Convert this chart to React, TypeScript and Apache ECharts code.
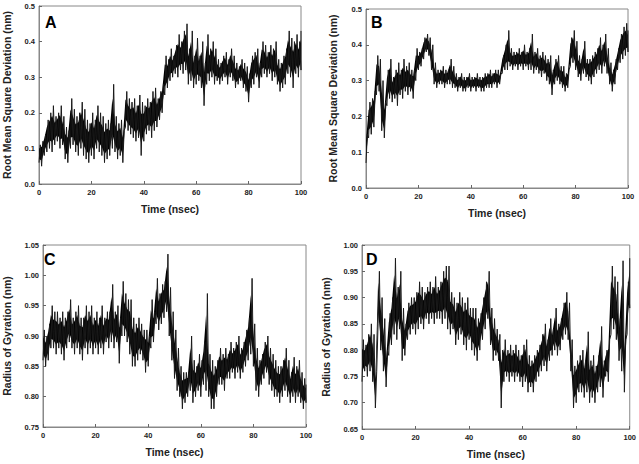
import React, { useEffect, useRef } from "react";
import * as echarts from "echarts";

// Time axis ticks (nsec)
const xTicks = [0, 20, 40, 60, 80, 100];

// Panel A – RMSD (nm), lower / upper envelope per ns (t = 0..100)
const aLo = [0.06,0.05,0.08,0.09,0.10,0.09,0.11,0.12,0.10,0.11,0.07,0.06,0.10,0.11,0.09,0.08,0.10,0.08,0.07,0.06,0.08,0.07,0.10,0.09,0.08,0.06,0.07,0.08,0.10,0.09,0.07,0.08,0.06,0.16,0.15,0.14,0.13,0.12,0.13,0.08,0.12,0.14,0.15,0.13,0.15,0.16,0.18,0.20,0.25,0.27,0.29,0.30,0.31,0.30,0.32,0.31,0.32,0.28,0.29,0.27,0.28,0.29,0.27,0.22,0.28,0.29,0.30,0.28,0.29,0.28,0.29,0.30,0.28,0.30,0.29,0.27,0.28,0.29,0.27,0.26,0.23,0.27,0.28,0.30,0.27,0.30,0.31,0.30,0.31,0.29,0.30,0.28,0.26,0.27,0.28,0.31,0.30,0.27,0.31,0.30,0.32];
const aHi = [0.11,0.12,0.14,0.18,0.20,0.22,0.19,0.20,0.22,0.19,0.16,0.15,0.24,0.21,0.19,0.20,0.23,0.21,0.18,0.17,0.20,0.18,0.22,0.20,0.19,0.17,0.18,0.17,0.28,0.19,0.17,0.18,0.15,0.26,0.24,0.23,0.24,0.22,0.25,0.23,0.22,0.24,0.23,0.26,0.27,0.24,0.26,0.28,0.36,0.35,0.38,0.36,0.39,0.42,0.40,0.43,0.45,0.38,0.43,0.36,0.41,0.36,0.40,0.34,0.42,0.38,0.40,0.38,0.35,0.34,0.36,0.37,0.35,0.38,0.36,0.34,0.33,0.35,0.34,0.33,0.31,0.36,0.37,0.38,0.34,0.40,0.39,0.37,0.39,0.38,0.40,0.35,0.34,0.36,0.38,0.43,0.41,0.40,0.42,0.40,0.43];

// Panel B – RMSD (nm)
const bLo = [0.07,0.14,0.15,0.17,0.26,0.27,0.16,0.14,0.23,0.25,0.24,0.25,0.23,0.26,0.25,0.27,0.26,0.27,0.25,0.30,0.33,0.34,0.36,0.38,0.37,0.33,0.29,0.28,0.29,0.29,0.28,0.29,0.29,0.28,0.28,0.27,0.28,0.27,0.27,0.28,0.27,0.28,0.27,0.28,0.27,0.27,0.28,0.28,0.28,0.29,0.28,0.29,0.32,0.33,0.33,0.34,0.33,0.34,0.33,0.34,0.33,0.34,0.33,0.33,0.32,0.33,0.32,0.31,0.32,0.30,0.29,0.26,0.29,0.30,0.29,0.28,0.27,0.28,0.34,0.35,0.33,0.31,0.30,0.32,0.31,0.30,0.29,0.31,0.32,0.33,0.32,0.34,0.32,0.29,0.27,0.29,0.33,0.35,0.36,0.37,0.38];
const bHi = [0.15,0.24,0.25,0.27,0.37,0.36,0.30,0.24,0.33,0.36,0.31,0.33,0.35,0.33,0.36,0.34,0.35,0.33,0.33,0.39,0.38,0.39,0.42,0.43,0.42,0.40,0.35,0.33,0.33,0.34,0.33,0.33,0.36,0.34,0.32,0.31,0.32,0.31,0.31,0.32,0.31,0.31,0.32,0.31,0.31,0.32,0.32,0.33,0.32,0.33,0.33,0.32,0.37,0.40,0.44,0.39,0.38,0.38,0.39,0.38,0.40,0.38,0.39,0.43,0.38,0.39,0.37,0.38,0.37,0.36,0.37,0.33,0.36,0.37,0.34,0.34,0.32,0.33,0.42,0.44,0.41,0.37,0.36,0.41,0.36,0.36,0.37,0.38,0.39,0.42,0.40,0.43,0.39,0.35,0.33,0.36,0.39,0.43,0.45,0.46,0.44];

// Panel C – Radius of gyration (nm)
const cLo = [0.86,0.85,0.86,0.88,0.88,0.87,0.88,0.87,0.86,0.88,0.89,0.88,0.87,0.88,0.87,0.86,0.88,0.87,0.88,0.87,0.88,0.87,0.88,0.87,0.89,0.88,0.89,0.88,0.89,0.855,0.90,0.90,0.89,0.87,0.85,0.85,0.86,0.87,0.86,0.84,0.85,0.88,0.89,0.92,0.91,0.92,0.93,0.94,0.90,0.86,0.83,0.81,0.80,0.78,0.79,0.80,0.81,0.79,0.80,0.81,0.80,0.82,0.81,0.80,0.78,0.78,0.80,0.82,0.82,0.81,0.83,0.83,0.84,0.83,0.84,0.83,0.84,0.85,0.86,0.87,0.85,0.81,0.80,0.82,0.83,0.84,0.82,0.81,0.80,0.80,0.79,0.80,0.81,0.80,0.79,0.80,0.79,0.80,0.79,0.78,0.79];
const cHi = [0.91,0.90,0.92,0.95,0.94,0.94,0.93,0.94,0.93,0.94,0.96,0.93,0.94,0.95,0.93,0.93,0.95,0.94,0.95,0.93,0.94,0.93,0.95,0.93,0.94,0.94,0.985,0.94,0.95,0.93,0.99,0.97,0.96,0.96,0.93,0.92,0.93,0.92,0.91,0.91,0.90,0.96,0.94,0.995,0.97,0.985,0.99,1.035,0.98,0.94,0.91,0.88,0.85,0.84,0.84,0.84,0.90,0.86,0.85,0.87,0.86,0.89,0.97,0.87,0.86,0.85,0.86,0.88,0.87,0.88,0.87,0.89,0.88,0.89,0.90,0.88,0.89,0.91,0.93,0.995,0.92,0.88,0.86,0.87,0.89,0.90,0.88,0.87,0.86,0.85,0.85,0.86,0.88,0.86,0.84,0.865,0.85,0.86,0.84,0.83,0.82];

// Panel D – Radius of gyration (nm)
const dLo = [0.74,0.76,0.75,0.76,0.74,0.69,0.85,0.80,0.76,0.73,0.79,0.81,0.83,0.82,0.84,0.78,0.79,0.82,0.83,0.84,0.83,0.84,0.85,0.84,0.86,0.85,0.86,0.85,0.86,0.86,0.85,0.86,0.84,0.83,0.84,0.81,0.82,0.83,0.81,0.80,0.82,0.80,0.79,0.78,0.80,0.82,0.84,0.86,0.81,0.78,0.79,0.78,0.69,0.74,0.75,0.74,0.75,0.74,0.75,0.74,0.73,0.74,0.72,0.73,0.72,0.74,0.75,0.76,0.77,0.76,0.78,0.79,0.80,0.79,0.80,0.82,0.83,0.82,0.76,0.69,0.70,0.72,0.72,0.71,0.72,0.70,0.71,0.70,0.72,0.73,0.71,0.75,0.74,0.83,0.84,0.82,0.78,0.76,0.72,0.83,0.88];
const dHi = [0.82,0.81,0.83,0.85,0.83,0.76,0.95,0.90,0.86,0.80,0.87,0.90,0.975,0.92,0.95,0.88,0.85,0.89,0.90,0.90,0.91,0.93,0.92,0.91,0.92,0.93,0.92,0.94,0.92,0.93,0.95,0.96,0.96,0.91,0.90,0.89,0.91,0.90,0.89,0.90,0.88,0.88,0.88,0.86,0.87,0.90,0.93,0.95,0.88,0.86,0.84,0.83,0.80,0.82,0.80,0.81,0.80,0.81,0.80,0.79,0.81,0.82,0.79,0.78,0.79,0.80,0.81,0.83,0.85,0.82,0.86,0.84,0.88,0.85,0.86,0.89,0.91,0.89,0.82,0.77,0.78,0.79,0.80,0.78,0.835,0.78,0.79,0.77,0.79,0.845,0.78,0.80,0.82,0.96,0.94,0.93,0.86,0.97,0.82,0.93,0.975];

const panelLetters = ["A", "B", "C", "D"];
const yTitles = [
  "Root Mean Square Deviation (nm)",
  "Root Mean Square Deviation (nm)",
  "Radius of Gyration (nm)",
  "Radius of Gyration (nm)",
];
const yMins = [0, 0, 0.75, 0.65];
const yMaxs = [0.5, 0.5, 1.05, 1.0];
const yIntervals = [0.1, 0.1, 0.05, 0.05];
const yDecimals = [1, 1, 2, 2];

const FONT = "Liberation Sans, Arial, sans-serif";

export default function App() {
  const ref = useRef<HTMLDivElement>(null);

  useEffect(() => {
    document.body.style.margin = "0";
    if (!ref.current) return;
    const chart = echarts.init(ref.current, undefined, { renderer: "svg" });

    const grids = [
      { left: 39, top: 6, width: 262, height: 178 },
      { left: 366, top: 9, width: 262, height: 179 },
      { left: 38, top: 245, width: 268, height: 182 },
      { left: 362, top: 245, width: 268, height: 184 },
    ];
    const yNameGaps = [27, 28, 31, 31];
    const letterPos = [
      [45, 14],
      [371, 14],
      [44, 251],
      [366, 251],
    ];
    const envelopes = [
      [aLo, aHi],
      [bLo, bHi],
      [cLo, cHi],
      [dLo, dHi],
    ];

    const lineAxis = { show: true, onZero: false, lineStyle: { color: "#888", width: 1 } };
    const tick = { show: true, inside: true, length: 3, lineStyle: { color: "#666" } };
    const label = { fontSize: 7.5, fontWeight: "bold", color: "#222", fontFamily: FONT, margin: 4 };
    const nameStyle = { fontSize: 10.5, fontWeight: "bold", color: "#222", fontFamily: FONT };

    // trace: lower envelope at t, upper envelope at t + 0.5
    const trace = (lo: number[], hi: number[]) =>
      lo.flatMap((v, i) => [
        [i, v],
        [Math.min(i + 0.5, 100), hi[i]],
      ]);

    // dense black core of the band (inner part of the envelope); the trace adds the spiky fringe
    const CORE = 0.22;
    const bandSeries = envelopes.map(([lo, hi], k) => ({
      type: "custom",
      xAxisIndex: k,
      yAxisIndex: k,
      silent: true,
      z: 1,
      data: [[0]],
      renderItem: (_p: any, api: any) => {
        const upper = hi.map((h, i) => api.coord([i, h - CORE * (h - lo[i])]));
        const lower = lo.map((l, i) => api.coord([i, l + CORE * (hi[i] - l)])).reverse();
        return {
          type: "polygon",
          shape: { points: upper.concat(lower) },
          style: { fill: "#000", stroke: "none" },
        };
      },
    }));

    const lineSeries = envelopes.map(([lo, hi], k) => ({
      type: "line",
      xAxisIndex: k,
      yAxisIndex: k,
      showSymbol: false,
      symbol: "none",
      clip: true,
      z: 2,
      lineStyle: { color: "#1a1a1a", width: 1 },
      data: trace(lo, hi),
    }));

    const option: any = {
      animation: false,
      backgroundColor: "#fff",
      grid: grids.map((g) => ({ ...g, show: true, borderColor: "#888", borderWidth: 1, backgroundColor: "transparent" })),
      xAxis: grids.map((_, k) => ({
        type: "value",
        gridIndex: k,
        min: xTicks[0],
        max: xTicks[xTicks.length - 1],
        interval: 20,
        name: "Time (nsec)",
        nameLocation: "middle",
        nameGap: 19,
        nameTextStyle: nameStyle,
        axisLine: lineAxis,
        axisTick: tick,
        axisLabel: label,
        splitLine: { show: false },
      })),
      yAxis: grids.map((_, k) => ({
        type: "value",
        gridIndex: k,
        min: yMins[k],
        max: yMaxs[k],
        interval: yIntervals[k],
        name: yTitles[k],
        nameLocation: "middle",
        nameGap: yNameGaps[k],
        nameTextStyle: nameStyle,
        axisLine: lineAxis,
        axisTick: tick,
        axisLabel: { ...label, formatter: (v: number) => v.toFixed(yDecimals[k]) },
        splitLine: { show: false },
      })),
      series: [...bandSeries, ...lineSeries],
      graphic: panelLetters.map((t, k) => ({
        type: "text",
        left: letterPos[k][0],
        top: letterPos[k][1],
        style: { text: t, font: `bold 16px ${FONT}`, fill: "#000" },
      })),
    };

    chart.setOption(option);
    return () => chart.dispose();
  }, []);

  return <div ref={ref} style={{ width: 639, height: 464 }} />;
}
